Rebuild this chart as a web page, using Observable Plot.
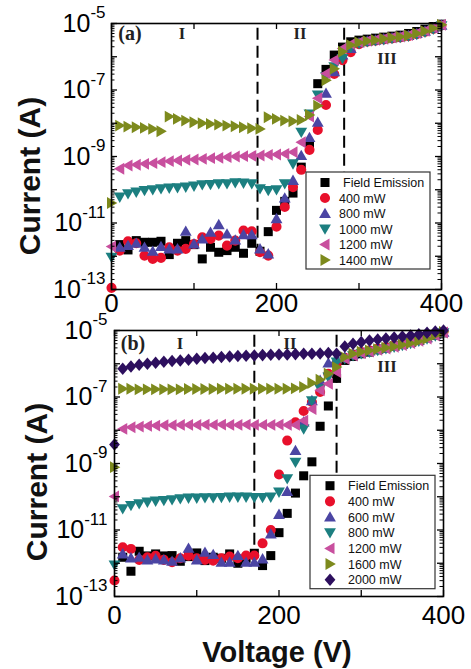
<!DOCTYPE html>
<html><head><meta charset="utf-8">
<script src="https://cdn.jsdelivr.net/npm/d3@7"></script>
<script src="https://cdn.jsdelivr.net/npm/@observablehq/plot@0.6"></script>
<style>
html,body{margin:0;padding:0;background:#fff;}
#chart{position:relative;width:471px;height:669px;overflow:hidden;background:#fff;}
#chart svg{position:absolute;left:0;display:block;}
</style></head><body><div id="chart"></div>
<script>
// ---------- data ----------
const voltages = [0,10,20,30,40,50,60,70,80,90,100,110,120,130,140,150,160,170,180,190,200,210,220,230,240,250,260,270,280,290,300,310,320,330,340,350,360,370,380,390,400];

// Panel (a): log10 of current (A)
const seriesNamesA = ["Field Emission","400 mW","800 mW","1000 mW","1200 mW","1400 mW"];
const a_FE    = [null,-11.65,-11.81,-11.53,-11.58,-11.58,-11.55,-11.95,-11.61,-11.53,-11.65,-12.08,-11.73,-11.88,-11.83,-11.73,-11.91,-11.61,-11.85,-11.26,-10.62,-10.35,-10.10,-9.32,-8.64,-6.81,-6.38,-5.95,-5.71,-5.55,-5.50,-5.47,-5.44,-5.41,-5.38,-5.35,-5.30,-5.24,-5.17,-5.09,-5.02];
const a_400   = [-12.95,-11.83,-11.55,-11.61,-11.98,-12.08,-12.05,-11.73,-11.83,-11.78,-11.63,-11.43,-11.48,-11.38,-11.68,-11.53,-11.23,-11.25,-11.88,-11.98,-11.11,-10.52,-9.92,-9.40,-8.80,-8.20,-7.45,-6.52,-6.10,-5.86,-5.62,-5.55,-5.52,-5.48,-5.45,-5.42,-5.38,-5.32,-5.25,-5.16,-5.06];
const a_800   = [null,-11.73,-11.68,-11.61,-11.73,-11.85,-11.71,-11.78,-11.78,-11.25,-11.63,-11.48,-11.28,-11.05,-11.33,-11.51,-11.35,-11.35,-11.78,-11.93,-10.87,-10.25,-9.72,-8.97,-8.43,-7.97,-7.10,-6.45,-5.95,-5.75,-5.58,-5.53,-5.50,-5.46,-5.43,-5.40,-5.36,-5.30,-5.23,-5.14,-5.05];
const a_1000  = [-12.03,-10.22,-10.12,-10.07,-10.02,-10.00,-9.97,-9.95,-9.94,-9.92,-9.89,-9.85,-9.84,-9.82,-9.82,-9.79,-9.80,-9.82,-9.97,-10.02,-10.00,-9.82,-9.22,-8.27,-7.72,-7.15,-6.60,-6.30,-6.05,-5.72,-5.60,-5.55,-5.52,-5.49,-5.45,-5.42,-5.38,-5.33,-5.26,-5.17,-5.07];
const a_1200  = [-11.71,-9.37,-9.27,-9.25,-9.22,-9.20,-9.17,-9.14,-9.12,-9.10,-9.09,-9.07,-9.05,-9.04,-9.02,-9.00,-8.99,-8.98,-8.97,-8.95,-8.94,-8.92,-8.87,-8.57,-7.80,-7.25,-6.50,-6.10,-5.75,-5.62,-5.56,-5.52,-5.49,-5.46,-5.42,-5.39,-5.35,-5.29,-5.22,-5.13,-5.04];
const a_1400  = [-10.40,-8.07,-8.10,-8.12,-8.14,-8.17,-8.24,-7.80,-7.87,-7.92,-7.97,-8.00,-8.02,-8.04,-8.07,-8.09,-8.12,-8.15,-8.17,-7.82,-7.87,-7.92,-7.94,-7.90,-7.75,-7.47,-6.71,-6.36,-5.85,-5.65,-5.57,-5.53,-5.50,-5.46,-5.43,-5.40,-5.36,-5.30,-5.23,-5.14,-5.04];

// Panel (b): log10 of current (A)
const seriesNamesB = ["Field Emission","400 mW","600 mW","800 mW","1200 mW","1600 mW","2000 mW"];
const b_FE    = [null,-11.82,-12.24,-11.64,-11.78,-11.72,-11.78,-11.77,-11.94,-11.80,-11.69,-11.92,-11.82,-11.85,-11.72,-12.00,-11.85,-11.70,-12.07,-11.77,-11.08,-10.50,-9.89,-9.37,-8.95,-7.88,-7.27,-6.44,-5.90,-5.78,-5.70,-5.65,-5.58,-5.53,-5.48,-5.42,-5.36,-5.30,-5.22,-5.14,-5.07];
const b_400   = [-12.52,-11.52,-11.57,-11.90,-11.82,-11.78,-11.90,-11.97,-11.85,-11.77,-11.85,-11.90,-11.92,-11.85,-11.80,-11.85,-11.77,-11.77,-11.40,-11.00,-9.33,-8.31,-7.76,-7.42,-7.15,-6.85,-6.30,-6.00,-5.82,-5.72,-5.65,-5.60,-5.55,-5.50,-5.45,-5.40,-5.34,-5.28,-5.20,-5.12,-5.04];
const b_600   = [null,-11.72,-11.84,-11.82,-11.90,-11.87,-11.90,-11.94,-11.84,-11.55,-11.90,-11.67,-11.74,-11.97,-11.97,-11.77,-11.97,-11.97,-11.87,-11.12,-10.53,-9.84,-8.61,-7.75,-7.11,-6.50,-5.98,-5.85,-5.80,-5.72,-5.66,-5.62,-5.57,-5.52,-5.47,-5.42,-5.36,-5.30,-5.22,-5.13,-5.05];
const b_800   = [-12.05,-10.36,-10.26,-10.21,-10.16,-10.13,-10.11,-10.09,-10.06,-10.04,-10.04,-10.03,-10.03,-10.02,-10.01,-10.01,-10.01,-10.02,-10.02,-10.01,-9.86,-9.46,-8.96,-7.96,-7.11,-6.75,-6.40,-5.95,-5.85,-5.76,-5.70,-5.65,-5.60,-5.55,-5.50,-5.45,-5.39,-5.32,-5.25,-5.16,-5.07];
const b_1200  = [-9.99,-7.96,-7.91,-7.89,-7.87,-7.86,-7.85,-7.85,-7.84,-7.84,-7.84,-7.83,-7.84,-7.83,-7.84,-7.84,-7.83,-7.84,-7.84,-7.84,-7.83,-7.84,-7.84,-7.71,-7.36,-6.80,-6.60,-6.25,-5.85,-5.75,-5.68,-5.63,-5.58,-5.54,-5.49,-5.44,-5.38,-5.31,-5.24,-5.15,-5.06];
const b_1600  = [-9.11,-6.75,-6.75,-6.77,-6.77,-6.77,-6.77,-6.77,-6.77,-6.76,-6.76,-6.76,-6.76,-6.75,-6.75,-6.75,-6.75,-6.75,-6.75,-6.75,-6.75,-6.75,-6.74,-6.70,-6.58,-6.48,-6.30,-6.10,-5.80,-5.70,-5.64,-5.60,-5.56,-5.52,-5.48,-5.43,-5.38,-5.32,-5.25,-5.14,-5.04];
const b_2000  = [-8.43,-6.15,-6.08,-6.03,-6.00,-5.97,-5.94,-5.92,-5.90,-5.88,-5.85,-5.83,-5.82,-5.80,-5.78,-5.77,-5.76,-5.75,-5.74,-5.73,-5.72,-5.72,-5.71,-5.70,-5.70,-5.69,-5.68,-5.70,-5.48,-5.40,-5.35,-5.30,-5.27,-5.24,-5.21,-5.18,-5.15,-5.11,-5.07,-5.03,-5.00];

// region boundaries (V) and axis ticks
const boundariesA = [177, 282];
const boundariesB = [170, 270];
const xTickValues = [0, 100, 200, 300, 400];
const xLabelValues = [0, 200, 400];
const yLabelExponents = [-13, -11, -9, -7, -5];
const regionLabels = ["I", "II", "III"];

// ---------- styles ----------
const COL = {black:"#000000", red:"#e8102b", blue:"#4b45a3", teal:"#1c7f80", magenta:"#c84f9e", olive:"#7d8a1d", purple:"#2d0f5e"};
const K = 1.1;
const poly = pts => ({draw(ctx){ ctx.moveTo(K*pts[0][0],K*pts[0][1]); for(let i=1;i<pts.length;i++) ctx.lineTo(K*pts[i][0],K*pts[i][1]); ctx.closePath(); }});
const SYM = {
  square: poly([[-4.1,-4.1],[4.1,-4.1],[4.1,4.1],[-4.1,4.1]]),
  circle: {draw(ctx){ const r = 4.6*K; ctx.moveTo(r,0); ctx.arc(0,0,r,0,2*Math.PI); ctx.closePath(); }},
  up: poly([[0,-5.3],[5.4,4.1],[-5.4,4.1]]),
  down: poly([[0,5.3],[5.4,-4.1],[-5.4,-4.1]]),
  left: poly([[-5.3,0],[4.1,-5.4],[4.1,5.4]]),
  right: poly([[5.3,0],[-4.1,-5.4],[-4.1,5.4]]),
  diamond: poly([[0,-5.7],[4.9,0],[0,5.7],[-4.9,0]])
};

const seriesA = [
  {name: seriesNamesA[0], logs: a_FE,   sym: SYM.square, color: COL.black},
  {name: seriesNamesA[1], logs: a_400,  sym: SYM.circle, color: COL.red},
  {name: seriesNamesA[2], logs: a_800,  sym: SYM.up,     color: COL.blue},
  {name: seriesNamesA[3], logs: a_1000, sym: SYM.down,   color: COL.teal},
  {name: seriesNamesA[4], logs: a_1200, sym: SYM.left,   color: COL.magenta},
  {name: seriesNamesA[5], logs: a_1400, sym: SYM.right,  color: COL.olive}
];
const seriesB = [
  {name: seriesNamesB[0], logs: b_FE,   sym: SYM.square,  color: COL.black},
  {name: seriesNamesB[1], logs: b_400,  sym: SYM.circle,  color: COL.red},
  {name: seriesNamesB[2], logs: b_600,  sym: SYM.up,      color: COL.blue},
  {name: seriesNamesB[3], logs: b_800,  sym: SYM.down,    color: COL.teal},
  {name: seriesNamesB[4], logs: b_1200, sym: SYM.left,    color: COL.magenta},
  {name: seriesNamesB[5], logs: b_1600, sym: SYM.right,   color: COL.olive},
  {name: seriesNamesB[6], logs: b_2000, sym: SYM.diamond, color: COL.purple}
];

const decades = d3.range(-13, -4).map(e => Math.pow(10, e));
const minorTicks = [];
for (let e = -13; e < -5; e++) for (let m = 2; m <= 9; m++) minorTicks.push(m * Math.pow(10, e));

const FONT = '"Liberation Sans", Arial, Helvetica, sans-serif';
const SERIF = '"Liberation Serif", "Times New Roman", serif';

function makePanel(cfg) {
  const W = 471, plotW = W - cfg.ml - cfg.mr, plotH = cfg.h - cfg.mt - cfg.mb;
  const marks = [];
  marks.push(Plot.ruleX(cfg.bounds, {y1: 1e-12, y2: 1e-5, stroke: "#000", strokeWidth: 2, strokeDasharray: "12,6"}));
  for (const s of cfg.series) {
    const data = voltages.map((v, i) => ({V: v, I: s.logs[i] == null ? null : Math.pow(10, s.logs[i])})).filter(d => d.I != null);
    marks.push(Plot.dot(data, {x: "V", y: "I", symbol: s.sym, fill: s.color, stroke: "none", r: 4}));
  }
  marks.push(Plot.tickY(decades, {y: d => d, insetRight: plotW - 6, strokeWidth: 1.3}));
  marks.push(Plot.tickY(decades, {y: d => d, insetLeft: plotW - 6, strokeWidth: 1.3}));
  marks.push(Plot.tickY(minorTicks, {y: d => d, insetRight: plotW - 3.5, strokeWidth: 1}));
  marks.push(Plot.tickY(minorTicks, {y: d => d, insetLeft: plotW - 3.5, strokeWidth: 1}));
  marks.push(Plot.tickX(xTickValues, {x: d => d, insetTop: plotH - 6, strokeWidth: 1.3}));
  marks.push(Plot.tickX(xTickValues, {x: d => d, insetBottom: plotH - 6, strokeWidth: 1.3}));
  marks.push(Plot.frame({stroke: "#000", strokeWidth: 1.6}));
  marks.push(Plot.axisY({ticks: yLabelExponents.map(e => Math.pow(10, e)), tickSize: 0, tickPadding: cfg.yPad,
    tickFormat: d => "10^" + Math.round(Math.log10(d)), fontSize: 25, label: null}));
  marks.push(Plot.axisX({ticks: xLabelValues, tickSize: 0, tickPadding: cfg.xPad, tickFormat: d => String(d), fontSize: 26, label: null}));

  const svg = Plot.plot({
    width: W, height: cfg.h,
    marginTop: cfg.mt, marginBottom: cfg.mb, marginLeft: cfg.ml, marginRight: cfg.mr,
    x: {domain: [0, 400]},
    y: {type: "log", domain: [1e-13, 1e-5]},
    style: {fontFamily: FONT, background: "transparent", color: "#000", overflow: "visible"},
    marks
  });
  svg.style.top = cfg.top + "px";

  const root = d3.select(svg);
  root.selectAll("text").filter(function() { return this.textContent.includes("^"); }).each(function() {
    const [base, exp] = this.textContent.split("^");
    const t = d3.select(this);
    t.text(null);
    t.append("tspan").text(base);
    t.append("tspan").attr("font-size", 17).attr("dy", "-0.78em").text(exp);
  });

  const ann = root.append("g").attr("font-family", SERIF).attr("font-weight", "bold").attr("fill", "#222").attr("text-anchor", "middle");
  ann.append("text").attr("x", cfg.tag[0]).attr("y", cfg.tag[1]).attr("font-size", 20).text(cfg.tagText);
  regionLabels.forEach((lbl, i) => {
    ann.append("text").attr("x", cfg.regions[i][0]).attr("y", cfg.regions[i][1]).attr("font-size", 16.5).text(lbl);
  });

  root.append("text").attr("transform", `translate(${cfg.yLab[0]},${cfg.yLab[1]}) rotate(-90)`)
    .attr("text-anchor", "middle").attr("font-family", FONT).attr("font-weight", "bold").attr("font-size", 30)
    .attr("fill", "#111").text("Current (A)");

  const L = cfg.legend;
  const lg = root.append("g").attr("text-anchor", "start");
  lg.append("rect").attr("x", L.x).attr("y", L.y).attr("width", L.w).attr("height", L.h)
    .attr("fill", "#fff").attr("stroke", "#333").attr("stroke-width", 1.2);
  cfg.series.forEach((s, i) => {
    const cy = L.row0 + i * L.dy;
    const p = d3.path(); s.sym.draw(p);
    lg.append("path").attr("d", p.toString()).attr("transform", `translate(${L.symX},${cy})`).attr("fill", s.color);
    lg.append("text").attr("x", L.textX + (i === 0 ? L.firstIndent : 0)).attr("y", cy).attr("dy", "0.36em")
      .attr("text-anchor", "start")
      .attr("font-family", FONT).attr("font-size", 12.5).attr("fill", "#111").text(s.name);
  });
  return svg;
}

const chart = document.getElementById("chart");

const svgA = makePanel({
  top: 0, h: 320, mt: 23, mb: 31, ml: 111, mr: 30, yPad: 6, xPad: 4,
  series: seriesA, bounds: boundariesA,
  tag: [130, 40], tagText: "(a)",
  regions: [[182, 39], [300, 39], [387, 64]],
  yLab: [40, 176],
  legend: {x: 306, y: 172, w: 124, h: 97, row0: 182.5, dy: 15.5, symX: 325, textX: 339, firstIndent: 4}
});
chart.appendChild(svgA);

const svgB = makePanel({
  top: 300, h: 369, mt: 30, mb: 73, ml: 114, mr: 28, yPad: 7, xPad: 9,
  series: seriesB, bounds: boundariesB,
  tag: [133, 50], tagText: "(b)",
  regions: [[180, 49], [290, 49], [387, 72]],
  yLab: [47, 182],
  legend: {x: 310, y: 175.3, w: 125, h: 113.4, row0: 185.7, dy: 15.67, symX: 330, textX: 348, firstIndent: 0}
});
chart.appendChild(svgB);

d3.select(svgB).append("text").attr("x", 277).attr("y", 361.5).attr("text-anchor", "middle")
  .attr("font-family", FONT).attr("font-weight", "bold").attr("font-size", 29).attr("fill", "#111").text("Voltage (V)");
</script>
</body></html>
